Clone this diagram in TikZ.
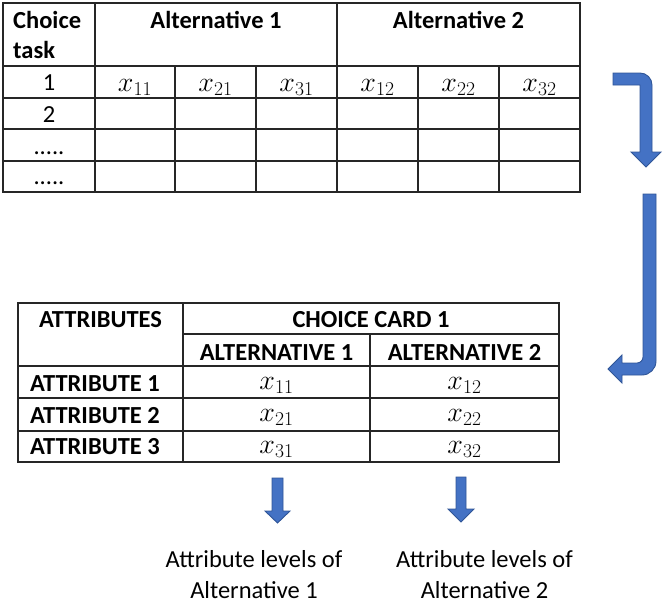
\RequirePackage{fix-cm}
\documentclass[tikz,border=0pt]{standalone}
\usepackage{fontspec}
\setmainfont{Carlito}
\definecolor{arrowblue}{HTML}{4472C4}
\definecolor{arrowedge}{HTML}{2F5597}
\begin{document}
\begin{tikzpicture}[x=1pt,y=-1pt,
  grid/.style={draw=black!85,line width=1.1pt},
  txt/.style={inner sep=0pt,anchor=base,font=\fontsize{24.5}{30}\selectfont},
  hdr/.style={txt,font=\fontsize{24.5}{30}\selectfont\bfseries},
  val/.style={txt,font=\fontsize{28}{30}\selectfont},
  blockarrow/.style={fill=arrowblue,draw=arrowedge,line width=0.9pt,line join=miter}]
\useasboundingbox (0,0) rectangle (663,608);

% ---------- design table (top) ----------
\draw[grid] (3,3) rectangle (580,192);
\draw[grid] (3,66) -- (580,66);
\foreach \y in {98,129,161} \draw[grid] (3,\y) -- (580,\y);
\draw[grid] (95,3) -- (95,192);
\draw[grid] (337,3) -- (337,192);
\foreach \x in {175,256,418,499} \draw[grid] (\x,66) -- (\x,192);

\node[hdr,anchor=base west] (ctA) at (13,28) {Choice};
\node[hdr,anchor=base west] (ctB) at (13,58) {task};
\node[hdr] (alt1) at (216,28) {Alternative 1};
\node[hdr] (alt2) at (458.5,28) {Alternative 2};

\node[txt] (r1) at (49,90) {1};
\node[txt] (r2) at (49,122) {2};
\node[txt] (r3) at (49,154) {.....};
\node[txt] (r4) at (49,184) {.....};

\node[val] (t11) at (135,91) {$x_{11}$};
\node[val] (t21) at (215.5,91) {$x_{21}$};
\node[val] (t31) at (296.5,91) {$x_{31}$};
\node[val] (t12) at (377.5,91) {$x_{12}$};
\node[val] (t22) at (458.5,91) {$x_{22}$};
\node[val] (t32) at (539.5,91) {$x_{32}$};

% ---------- choice card (bottom) ----------
\draw[grid] (18,303) rectangle (559,462);
\draw[grid] (183,303) -- (183,462);
\draw[grid] (183,334) -- (559,334);
\draw[grid] (370,334) -- (370,462);
\foreach \y in {366,398,431} \draw[grid] (18,\y) -- (559,\y);

\node[hdr] (attrs) at (100.5,327) {ATTRIBUTES};
\node[hdr] (card) at (371,327) {CHOICE CARD 1};
\node[hdr] (calt1) at (276.5,360) {ALTERNATIVE 1};
\node[hdr] (calt2) at (464.5,360) {ALTERNATIVE 2};

\node[hdr,anchor=base west] (a1) at (30,391) {ATTRIBUTE 1};
\node[hdr,anchor=base west] (a2) at (30,423) {ATTRIBUTE 2};
\node[hdr,anchor=base west] (a3) at (30,454) {ATTRIBUTE 3};

\node[val] (c11) at (276.5,389) {$x_{11}$};
\node[val] (c21) at (276.5,421) {$x_{21}$};
\node[val] (c31) at (276.5,453) {$x_{31}$};
\node[val] (c12) at (464.5,389) {$x_{12}$};
\node[val] (c22) at (464.5,421) {$x_{22}$};
\node[val] (c32) at (464.5,453) {$x_{32}$};

% ---------- bent block arrows on the right ----------
\draw[blockarrow] (613,73) -- (640,73) arc[start angle=-90,end angle=0,radius=12]
  -- (652,152) -- (661,152) -- (646,167) -- (631,152) -- (640,152)
  -- (640,85) -- (613,85) -- cycle;

\draw[blockarrow] (643,194) -- (656,194) -- (656,361)
  arc[start angle=0,end angle=90,radius=14]
  -- (622,375) -- (622,383) -- (608,369) -- (622,355) -- (622,363) -- (637,363)
  arc[start angle=90,end angle=0,radius=6] -- cycle;

% ---------- small down arrows ----------
\draw[blockarrow] (272,478) -- (283,478) -- (283,511) -- (290,511) -- (277.5,523)
  -- (265,511) -- (272,511) -- cycle;
\draw[blockarrow] (456,477) -- (466,477) -- (466,509) -- (474,509) -- (461,522)
  -- (448,509) -- (456,509) -- cycle;

% ---------- labels ----------
\node[txt] (l1a) at (254,567) {Attribute levels of};
\node[txt] (l1b) at (254,598) {Alternative 1};
\node[txt] (l2a) at (484.5,567) {Attribute levels of};
\node[txt] (l2b) at (484.5,598) {Alternative 2};
\end{tikzpicture}
\end{document}
